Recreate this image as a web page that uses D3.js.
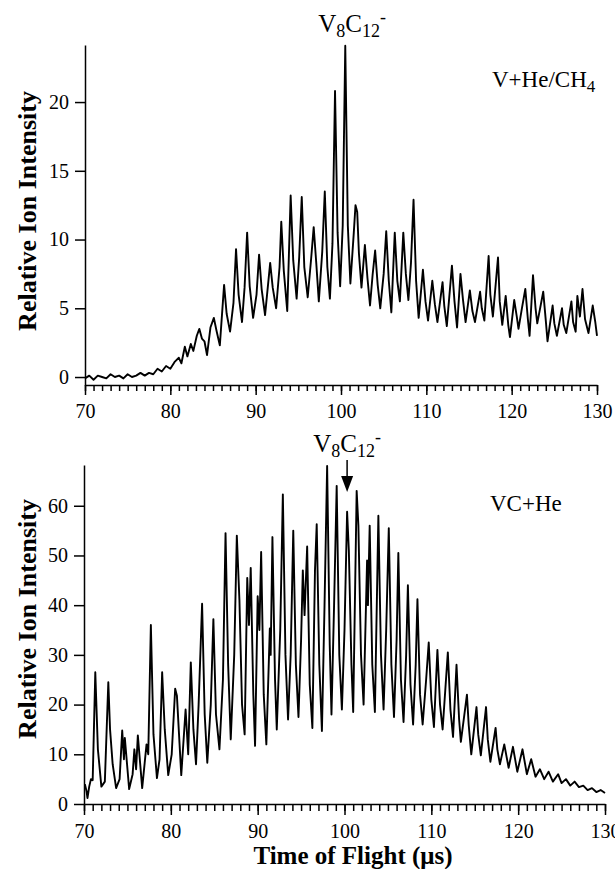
<!DOCTYPE html>
<html>
<head>
<meta charset="utf-8">
<script src="https://cdn.jsdelivr.net/npm/d3@7"></script>
<style>
  body { margin: 0; background: #fff; }
  text { font-family: "Liberation Serif", "Times New Roman", serif; fill: #000; }
</style>
</head>
<body>
<script>
// ================== DATA ===========================
// upper spectrum: V + He/CH4
const topTime = [
  70.0, 70.5, 71.0, 71.5, 72.0, 72.5, 73.0, 73.5, 74.0, 74.5, 75.0, 75.5, 76.0, 76.5, 77.0, 77.5,
  78.0, 78.5, 79.0, 79.5, 80.0, 80.5, 81.0, 81.3, 81.7, 82.0, 82.4, 82.7, 83.1, 83.4, 83.7, 84.0,
  84.3, 84.7, 85.1, 85.4, 85.8, 86.3, 86.6, 87.0, 87.4, 87.7, 88.0, 88.4, 88.7, 89.0, 89.3, 89.7,
  90.1, 90.4, 90.7, 91.1, 91.7, 92.0, 92.4, 92.8, 93.0, 93.3, 93.7, 94.1, 94.4, 94.8, 95.1, 95.4,
  95.7, 96.1, 96.5, 96.8, 97.1, 97.4, 97.8, 98.1, 98.4, 98.7, 99.0, 99.3, 99.6, 99.9, 100.2, 100.5,
  100.8, 101.1, 101.5, 101.7, 101.9, 102.1, 102.4, 102.8, 103.1, 103.4, 103.7, 104.0, 104.3, 104.6,
  105.0, 105.3, 105.6, 105.9, 106.3, 106.6, 106.9, 107.3, 107.6, 107.9, 108.2, 108.5, 108.8, 109.1,
  109.6, 109.9, 110.2, 110.7, 111.0, 111.3, 111.9, 112.1, 112.4, 113.0, 113.3, 113.6, 114.0, 114.3,
  114.6, 115.1, 115.4, 115.7, 116.3, 116.5, 116.8, 117.3, 117.5, 117.8, 118.4, 118.6, 118.9, 119.3,
  119.6, 119.8, 120.3, 120.6, 120.8, 121.2, 121.6, 121.9, 122.1, 122.5, 122.8, 123.0, 123.7, 124.0,
  124.2, 124.8, 125.0, 125.3, 125.9, 126.1, 126.4, 127.0, 127.2, 127.5, 127.7, 128.0, 128.3, 128.6,
  129.0, 129.5, 129.8, 130.0
];
const topSignal = [
  -0.1, 0.1, -0.2, 0.1, 0.0, -0.1, 0.2, 0.0, 0.1, -0.1, 0.2, 0.0, 0.1, 0.3, 0.1, 0.3,
  0.2, 0.6, 0.4, 0.8, 0.6, 1.1, 1.4, 1.0, 2.2, 1.5, 2.4, 1.9, 3.0, 3.5, 2.8, 2.6,
  1.6, 3.6, 4.3, 3.4, 2.3, 6.7, 4.6, 3.3, 5.4, 9.3, 6.0, 4.0, 6.5, 10.5, 6.6, 4.3,
  6.0, 8.9, 6.4, 4.5, 8.3, 6.5, 5.0, 8.0, 11.3, 7.7, 4.8, 13.2, 8.5, 5.7, 8.7, 13.1,
  8.0, 5.8, 8.6, 10.9, 8.3, 5.5, 9.1, 13.5, 8.0, 5.7, 9.7, 20.8, 10.5, 6.6, 11.0, 24.1,
  11.0, 6.8, 10.5, 12.5, 12.0, 9.0, 6.5, 9.6, 7.2, 5.2, 7.4, 9.2, 6.7, 5.0,
  7.5, 10.6, 7.0, 4.7, 10.5, 7.0, 5.5, 10.5, 7.5, 5.6, 8.3, 12.9, 7.0, 4.3,
  7.8, 5.5, 4.1, 7.0, 5.3, 4.0, 6.9, 5.2, 3.7, 8.1, 5.5, 3.6, 7.5, 5.6,
  4.0, 6.3, 4.8, 4.0, 6.2, 5.0, 4.1, 8.8, 6.0, 4.4, 8.7, 5.5, 3.8, 5.9,
  3.8, 2.9, 5.6, 4.4, 3.5, 5.0, 6.4, 4.2, 3.0, 7.4, 5.0, 3.9, 6.2, 4.1,
  2.6, 5.2, 3.9, 3.0, 5.0, 3.8, 3.2, 5.5, 4.0, 3.3, 5.9, 4.4, 6.4, 4.2,
  3.2, 5.2, 4.0, 3.0
];

// lower spectrum: VC + He
const bottomTime = [
  70.1, 70.3, 70.4, 70.6, 70.8, 71.0, 71.3, 71.6, 72.0, 72.4, 72.8, 73.0, 73.3, 73.7, 74.1, 74.4,
  74.6, 74.7, 75.2, 75.6, 75.8, 76.0, 76.2, 76.7, 77.2, 77.4, 77.7, 78.0, 78.4, 78.7, 79.0, 79.3,
  79.7, 80.1, 80.5, 80.7, 81.2, 81.7, 82.0, 82.3, 82.6, 82.9, 83.2, 83.6, 83.9, 84.2, 84.6, 84.9,
  85.2, 85.6, 86.0, 86.3, 86.6, 86.9, 87.3, 87.6, 87.9, 88.2, 88.5, 88.8, 89.0, 89.2, 89.5, 89.7,
  90.0, 90.2, 90.4, 90.7, 91.0, 91.4, 91.5, 91.7, 92.0, 92.2, 92.6, 92.9, 93.2, 93.5, 93.8, 94.1,
  94.4, 94.7, 95.0, 95.2, 95.4, 95.7, 96.0, 96.3, 96.6, 96.8, 97.1, 97.4, 97.7, 98.0, 98.3, 98.5,
  98.8, 99.1, 99.4, 99.7, 100.0, 100.3, 100.5, 100.8, 101.0, 101.4, 101.6, 101.9, 102.2, 102.6,
  102.7, 102.9, 103.2, 103.5, 103.9, 104.2, 104.5, 104.8, 105.1, 105.4, 105.7, 106.0, 106.2, 106.5,
  106.8, 107.1, 107.3, 107.6, 107.9, 108.2, 108.4, 108.7, 109.0, 109.4, 109.7, 110.0, 110.3, 110.7,
  111.0, 111.3, 111.9, 112.2, 112.5, 112.9, 113.2, 113.4, 114.1, 114.3, 114.6, 115.2, 115.4, 115.7,
  116.3, 116.5, 116.8, 117.4, 117.6, 117.9, 118.4, 118.9, 119.4, 119.9, 120.5, 121.0, 121.5, 122.0,
  122.5, 123.0, 123.5, 124.0, 124.6, 125.0, 125.5, 126.0, 126.5, 127.0, 127.5, 128.0, 128.5, 129.0,
  129.5, 130.0
];
const bottomSignal = [
  4.0, 2.5, 1.2, 3.5, 5.0, 4.8, 26.5, 11.0, 3.5, 4.5, 24.5, 15.0, 8.0, 3.2, 5.0, 14.8,
  9.0, 13.3, 3.0, 6.0, 11.0, 7.0, 13.8, 3.2, 12.0, 10.0, 36.0, 14.0, 5.2, 9.0, 26.5, 15.0,
  5.8, 10.0, 23.2, 21.8, 5.8, 19.0, 10.0, 28.5, 15.0, 8.0, 20.0, 40.3, 18.0, 8.3, 20.0, 37.2,
  18.0, 11.0, 25.0, 54.5, 28.0, 13.0, 30.0, 54.0, 41.0, 20.0, 14.0, 45.5, 36.0, 47.5, 22.0, 11.7,
  41.8, 35.0, 50.7, 22.0, 12.0, 35.3, 30.0, 53.7, 25.0, 15.0, 35.0, 62.3, 30.0, 17.0, 30.0, 55.0,
  28.0, 17.5, 33.0, 47.0, 38.0, 51.8, 24.0, 15.3, 47.0, 56.3, 28.0, 14.7, 40.0, 68.0, 32.0, 18.0,
  40.0, 64.0, 30.0, 19.0, 35.0, 58.8, 51.0, 28.0, 18.5, 63.0, 56.0, 30.0, 20.0, 49.0,
  40.0, 56.0, 28.0, 18.5, 58.0, 30.0, 19.0, 35.0, 55.5, 28.0, 17.5, 33.0, 50.5, 25.0,
  16.5, 30.0, 44.0, 24.0, 16.0, 28.0, 41.2, 22.0, 16.0, 25.0, 32.5, 21.0, 15.5, 31.0,
  20.0, 15.0, 30.5, 19.0, 13.5, 28.0, 17.0, 12.5, 22.0, 16.0, 10.0, 19.5, 14.0, 9.8,
  19.5, 13.0, 8.5, 15.3, 11.0, 8.0, 12.0, 7.3, 11.5, 6.5, 11.0, 6.0, 9.0, 5.5,
  7.0, 5.0, 6.5, 4.5, 6.0, 4.2, 5.0, 3.7, 4.5, 3.4, 3.7, 2.8, 3.2, 2.4,
  2.8, 2.2
];

const xMajorTicks = [70, 80, 90, 100, 110, 120, 130];
const xMinorTicks = d3.range(70, 131, 1);
const topYTicks = [0, 5, 10, 15, 20];
const bottomYTicks = [0, 10, 20, 30, 40, 50, 60];
const arrowTime = 100.3;

// ================== LAYOUT ===========================
const svg = d3.select("body")
              .append("svg")
              .attr("width", 615)
              .attr("height", 869);

function drawPanel(p) {
  const x = d3.scaleLinear().domain([70, 130]).range([p.left, p.right]);
  const y = d3.scaleLinear().domain(p.yDomain).range([p.bottom, p.top]);
  const g = svg.append("g");

  // minor x ticks
  g.append("g")
   .attr("transform", `translate(0, ${p.bottom})`)
   .call(d3.axisBottom(x).tickValues(xMinorTicks).tickSize(p.minorTick).tickSizeOuter(0).tickFormat(""))
   .call(a => a.select(".domain").remove());

  // major x ticks + labels
  const xa = g.append("g")
   .attr("transform", `translate(0, ${p.bottom})`)
   .call(d3.axisBottom(x).tickValues(xMajorTicks).tickSize(p.majorTick).tickSizeOuter(0).tickFormat(d3.format("d")));
  xa.selectAll("text").attr("y", p.xLabelOffset).attr("dy", null);

  // y axis
  g.append("g")
   .attr("transform", `translate(${p.left}, 0)`)
   .call(d3.axisLeft(y).tickValues(p.yTicks).tickSize(10).tickPadding(6).tickSizeOuter(0));

  g.selectAll("g").attr("font-family", null).attr("font-size", null);
  g.selectAll(".tick text").attr("font-size", 20);
  g.selectAll(".domain, .tick line").attr("stroke", "#000").attr("stroke-width", 1.5);

  // spectrum trace
  const line = d3.line().x(d => x(d[0])).y(d => y(d[1]));
  g.append("path")
   .datum(d3.zip(p.time, p.signal))
   .attr("fill", "none")
   .attr("stroke", "#000")
   .attr("stroke-width", 1.9)
   .attr("stroke-linejoin", "round")
   .attr("d", line);

  // y label
  g.append("text")
   .attr("transform", `translate(36, ${p.yLabelY}) rotate(-90)`)
   .attr("text-anchor", "middle")
   .attr("font-size", 26)
   .attr("font-weight", "bold")
   .text("Relative Ion Intensity");

  return { x, y, g };
}

const topPanel = drawPanel({
  left: 85, right: 597, top: 45, bottom: 385,
  yDomain: [-0.58, 24.15], yTicks: topYTicks,
  majorTick: 10, minorTick: 6, xLabelOffset: 33,
  time: topTime, signal: topSignal, yLabelY: 211
});

const bottomPanel = drawPanel({
  left: 84, right: 605, top: 465, bottom: 804,
  yDomain: [0, 68.2], yTicks: bottomYTicks,
  majorTick: 11, minorTick: 7, xLabelOffset: 34,
  time: bottomTime, signal: bottomSignal, yLabelY: 619
});

// ================== ANNOTATIONS ===========================
function formula(sel, xPos, yPos, size) {
  const t = sel.append("text").attr("x", xPos).attr("y", yPos)
               .attr("text-anchor", "middle").attr("font-size", size);
  t.append("tspan").text("V");
  t.append("tspan").attr("font-size", size * 0.72).attr("dy", size * 0.18).text("8");
  t.append("tspan").attr("dy", -size * 0.18).text("C");
  t.append("tspan").attr("font-size", size * 0.72).attr("dy", size * 0.18).text("12");
  t.append("tspan").attr("font-size", size * 0.72).attr("dy", -size * 0.55).text("-");
}

formula(svg, 352, 32, 25);
formula(svg, 347, 452, 25);

const lab1 = svg.append("text").attr("x", 492).attr("y", 87).attr("font-size", 23);
lab1.append("tspan").text("V+He/CH");
lab1.append("tspan").attr("font-size", 17).attr("dy", 5).text("4");

svg.append("text").attr("x", 490).attr("y", 511).attr("font-size", 23).text("VC+He");

// arrow to V8C12- peak
const ax = bottomPanel.x(arrowTime);
svg.append("line").attr("x1", ax).attr("x2", ax).attr("y1", 460).attr("y2", 478)
   .attr("stroke", "#000").attr("stroke-width", 1.5);
svg.append("path").attr("d", `M${ax - 6},476 L${ax + 6},476 L${ax},492 Z`).attr("fill", "#000");

// x title
svg.append("text")
   .attr("x", 353).attr("y", 864)
   .attr("text-anchor", "middle")
   .attr("font-size", 25).attr("font-weight", "bold")
   .text("Time of Flight (\u03bcs)");
</script>
</body>
</html>
